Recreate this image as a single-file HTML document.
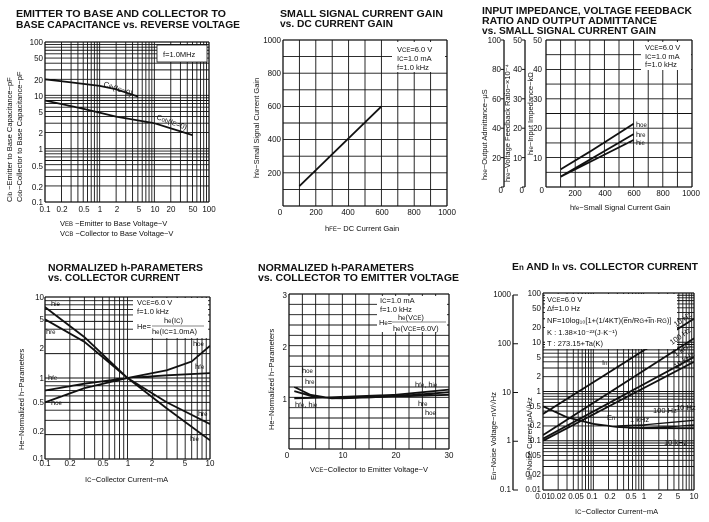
<!DOCTYPE html>
<html><head><meta charset="utf-8"><style>
body{margin:0;background:#fff}
svg{display:block}
text{font-family:"Liberation Sans",sans-serif;fill:#111}
.t{font-weight:bold;font-size:10.5px}
.s{font-size:8px}
.a{font-size:7.5px}
</style></head><body>
<svg id="c" width="709" height="522" viewBox="0 0 709 522" xmlns="http://www.w3.org/2000/svg">
<rect width="709" height="522" fill="#fff"/>
<g id="g" stroke="#111" fill="none"></g>
<!-- Titles -->
<text class="t" x="16" y="17" textLength="210" lengthAdjust="spacingAndGlyphs">EMITTER TO BASE AND COLLECTOR TO</text>
<text class="t" x="16" y="28" textLength="224" lengthAdjust="spacingAndGlyphs">BASE CAPACITANCE vs. REVERSE VOLTAGE</text>
<text class="t" x="280" y="17" textLength="163" lengthAdjust="spacingAndGlyphs">SMALL SIGNAL CURRENT GAIN</text>
<text class="t" x="280" y="27" textLength="113" lengthAdjust="spacingAndGlyphs">vs. DC CURRENT GAIN</text>
<text class="t" x="482" y="14" textLength="210" lengthAdjust="spacingAndGlyphs">INPUT IMPEDANCE, VOLTAGE FEEDBACK</text>
<text class="t" x="482" y="24" textLength="175" lengthAdjust="spacingAndGlyphs">RATIO AND OUTPUT ADMITTANCE</text>
<text class="t" x="482" y="34" textLength="174" lengthAdjust="spacingAndGlyphs">vs. SMALL SIGNAL CURRENT GAIN</text>
<text class="t" x="48" y="271" textLength="155" lengthAdjust="spacingAndGlyphs">NORMALIZED h-PARAMETERS</text>
<text class="t" x="48" y="281" textLength="132" lengthAdjust="spacingAndGlyphs">vs. COLLECTOR CURRENT</text>
<text class="t" x="258" y="271" textLength="156" lengthAdjust="spacingAndGlyphs">NORMALIZED h-PARAMETERS</text>
<text class="t" x="258" y="281" textLength="201" lengthAdjust="spacingAndGlyphs">vs. COLLECTOR TO EMITTER VOLTAGE</text>
<text class="t" x="512" y="270" textLength="186" lengthAdjust="spacingAndGlyphs">E<tspan font-size="8">n</tspan> AND I<tspan font-size="8">n</tspan> vs. COLLECTOR CURRENT</text>
<!-- Chart1 labels -->
<g class="s" text-anchor="end">
<text x="43" y="45">100</text><text x="43" y="61">50</text><text x="43" y="83">20</text><text x="43" y="99">10</text><text x="43" y="115">5</text><text x="43" y="136">2</text><text x="43" y="152">1</text><text x="43" y="169">0.5</text><text x="43" y="190">0.2</text><text x="43" y="205">0.1</text></g>
<g class="s" text-anchor="middle">
<text x="45" y="212">0.1</text><text x="62" y="212">0.2</text><text x="84" y="212">0.5</text><text x="100" y="212">1</text><text x="117" y="212">2</text><text x="139" y="212">5</text><text x="155" y="212">10</text><text x="171" y="212">20</text><text x="193" y="212">50</text><text x="209" y="212">100</text></g>
<text class="a" x="60" y="226">V<tspan font-size="6">EB</tspan> −Emitter to Base Voltage−V</text>
<text class="a" x="60" y="236">V<tspan font-size="6">CB</tspan> −Collector to Base Voltage−V</text>
<text class="a" transform="translate(12,202) rotate(-90)">C<tspan font-size="6">ib</tspan> −Emitter to Base Capacitance−pF</text>
<text class="a" transform="translate(22,202) rotate(-90)">C<tspan font-size="6">ob</tspan>−Collector to Base Capacitance−pF</text>
<rect x="157" y="45" width="50" height="17" fill="#fff" stroke="#111" stroke-width="0.8"/>
<text class="a" x="163" y="57">f=1.0MHz</text>
<text class="a" x="103" y="86" transform="rotate(20 103 86)">C<tspan font-size="6">ib</tspan>(I<tspan font-size="6">C</tspan>=0)</text>
<text class="a" x="156" y="119" transform="rotate(20 156 119)">C<tspan font-size="6">ob</tspan>(I<tspan font-size="6">E</tspan>=0)</text>
<!-- Chart2 labels -->
<g class="s" text-anchor="end"><text x="281" y="43">1000</text><text x="281" y="76">800</text><text x="281" y="109">600</text><text x="281" y="142">400</text><text x="281" y="176">200</text></g>
<g class="s" text-anchor="middle"><text x="280" y="215">0</text><text x="316" y="215">200</text><text x="348" y="215">400</text><text x="382" y="215">600</text><text x="414" y="215">800</text><text x="447" y="215">1000</text></g>
<text class="a" x="325" y="231">h<tspan font-size="6">FE</tspan>− DC  Current Gain</text>
<text class="a" transform="translate(259,178) rotate(-90)">h<tspan font-size="6">fe</tspan>−Small Signal Current Gain</text>
<rect x="392" y="42" width="53" height="30" fill="#fff"/>
<text class="a" x="397" y="52">V<tspan font-size="6">CE</tspan>=6.0 V</text>
<text class="a" x="397" y="61">I<tspan font-size="6">C</tspan>=1.0 mA</text>
<text class="a" x="397" y="70">f=1.0 kHz</text>
<!-- Chart3 labels -->
<g class="s" text-anchor="end">
<text x="542" y="43">50</text><text x="542" y="72">40</text><text x="542" y="102">30</text><text x="542" y="131">20</text><text x="542" y="161">10</text><text x="544" y="193">0</text>
<text x="522" y="43">50</text><text x="522" y="72">40</text><text x="522" y="102">30</text><text x="522" y="131">20</text><text x="522" y="161">10</text><text x="524" y="193">0</text>
<text x="501" y="43">100</text><text x="501" y="72">80</text><text x="501" y="102">60</text><text x="501" y="131">40</text><text x="501" y="161">20</text><text x="503" y="193">0</text></g>
<g class="s" text-anchor="middle"><text x="575" y="196">200</text><text x="605" y="196">400</text><text x="634" y="196">600</text><text x="663" y="196">800</text><text x="691" y="196">1000</text></g>
<text class="a" x="570" y="210">h<tspan font-size="6">fe</tspan>−Small Signal Current Gain</text>
<text class="a" transform="translate(487,180) rotate(-90)">h<tspan font-size="6">oe</tspan>−Output Admittance−μS</text>
<text class="a" transform="translate(510,182) rotate(-90)">h<tspan font-size="6">re</tspan>−Voltage Feedback Ratio−×10⁻⁴</text>
<text class="a" transform="translate(533,155) rotate(-90)">h<tspan font-size="6">ie</tspan>−Input Impedance−kΩ</text>
<rect x="641" y="42" width="50" height="28" fill="#fff"/>
<text class="a" x="645" y="50">V<tspan font-size="6">CE</tspan>=6.0 V</text>
<text class="a" x="645" y="59">I<tspan font-size="6">C</tspan>=1.0 mA</text>
<text class="a" x="645" y="67">f=1.0 kHz</text>
<text class="a" x="636" y="127">h<tspan font-size="6">oe</tspan></text>
<text class="a" x="636" y="137">h<tspan font-size="6">re</tspan></text>
<text class="a" x="636" y="145">h<tspan font-size="6">ie</tspan></text>
<!-- Chart4 labels -->
<g class="s" text-anchor="end"><text x="44" y="300">10</text><text x="44" y="322">5</text><text x="44" y="351">2</text><text x="44" y="381">1</text><text x="44" y="405">0.5</text><text x="44" y="434">0.2</text><text x="44" y="461">0.1</text></g>
<g class="s" text-anchor="middle"><text x="45" y="466">0.1</text><text x="70" y="466">0.2</text><text x="103" y="466">0.5</text><text x="128" y="466">1</text><text x="152" y="466">2</text><text x="185" y="466">5</text><text x="210" y="466">10</text></g>
<text class="a" x="85" y="482">I<tspan font-size="6">C</tspan>−Collector Current−mA</text>
<text class="a" transform="translate(24,450) rotate(-90)">He−Normalized h−Parameters</text>
<rect x="133" y="298" width="75" height="40" fill="#fff"/>
<text class="a" x="137" y="305">V<tspan font-size="6">CE</tspan>=6.0 V</text>
<text class="a" x="137" y="314">f=1.0 kHz</text>
<text class="a" x="164" y="323">h<tspan font-size="6">e</tspan>(I<tspan font-size="6">C</tspan>)</text>
<text class="a" x="137" y="329">He=</text>
<line x1="152" y1="326" x2="204" y2="326" stroke="#111" stroke-width="0.6"/>
<text class="a" x="152" y="334">h<tspan font-size="6">e</tspan>(I<tspan font-size="6">C</tspan>=1.0mA)</text>
<text class="a" x="51" y="306">h<tspan font-size="6">ie</tspan></text>
<text class="a" x="46" y="334">h<tspan font-size="6">re</tspan></text>
<text class="a" x="48" y="380">h<tspan font-size="6">fe</tspan></text>
<text class="a" x="51" y="405">h<tspan font-size="6">oe</tspan></text>
<text class="a" x="193" y="346">h<tspan font-size="6">oe</tspan></text>
<text class="a" x="195" y="369">h<tspan font-size="6">fe</tspan></text>
<text class="a" x="198" y="416">h<tspan font-size="6">re</tspan></text>
<text class="a" x="190" y="441">h<tspan font-size="6">ie</tspan></text>
<!-- Chart5 labels -->
<g class="s" text-anchor="end"><text x="287" y="298">3</text><text x="287" y="350">2</text><text x="287" y="402">1</text></g>
<g class="s" text-anchor="middle"><text x="287" y="458">0</text><text x="343" y="458">10</text><text x="396" y="458">20</text><text x="449" y="458">30</text></g>
<text class="a" x="310" y="472">V<tspan font-size="6">CE</tspan>−Collector to Emitter Voltage−V</text>
<text class="a" transform="translate(274,430) rotate(-90)">He−Normalized h−Parameters</text>
<rect x="377" y="296" width="70" height="36" fill="#fff"/>
<text class="a" x="380" y="303">I<tspan font-size="6">C</tspan>=1.0 mA</text>
<text class="a" x="380" y="312">f=1.0 kHz</text>
<text class="a" x="398" y="320">h<tspan font-size="6">e</tspan>(V<tspan font-size="6">CE</tspan>)</text>
<text class="a" x="379" y="325">H<tspan font-size="6">e</tspan>=</text>
<line x1="392" y1="322" x2="446" y2="322" stroke="#111" stroke-width="0.6"/>
<text class="a" x="393" y="331">h<tspan font-size="6">e</tspan>(V<tspan font-size="6">CE</tspan>=6.0V)</text>
<text class="a" x="302" y="373">h<tspan font-size="6">oe</tspan></text>
<text class="a" x="305" y="384">h<tspan font-size="6">re</tspan></text>
<text class="a" x="295" y="407">h<tspan font-size="6">fe</tspan>, h<tspan font-size="6">ie</tspan></text>
<text class="a" x="415" y="387">h<tspan font-size="6">fe</tspan>, h<tspan font-size="6">ie</tspan></text>
<text class="a" x="418" y="406">h<tspan font-size="6">re</tspan></text>
<text class="a" x="425" y="415">h<tspan font-size="6">oe</tspan></text>
<!-- Chart6 labels -->
<g class="s" text-anchor="end">
<text x="541" y="296">100</text><text x="541" y="311">50</text><text x="541" y="330">20</text><text x="541" y="345">10</text><text x="541" y="360">5</text><text x="541" y="379">2</text><text x="541" y="394">1</text><text x="541" y="409">0.5</text><text x="541" y="428">0.2</text><text x="541" y="443">0.1</text><text x="541" y="458">0.05</text><text x="541" y="477">0.02</text><text x="541" y="492">0.01</text>
<text x="511" y="297">1000</text><text x="511" y="346">100</text><text x="511" y="395">10</text><text x="511" y="443">1</text><text x="511" y="492">0.1</text></g>
<g class="s" text-anchor="middle"><text x="543" y="499">0.01</text><text x="558" y="499">0.02</text><text x="576" y="499">0.05</text><text x="592" y="499">0.1</text><text x="610" y="499">0.2</text><text x="631" y="499">0.5</text><text x="644" y="499">1</text><text x="660" y="499">2</text><text x="678" y="499">5</text><text x="694" y="499">10</text></g>
<text class="a" x="575" y="514">I<tspan font-size="6">C</tspan>−Collector Current−mA</text>
<text class="a" transform="translate(496,480) rotate(-90)">E<tspan font-size="6">n</tspan>−Noise Voltage−nV/√Hz</text>
<text class="a" transform="translate(532,480) rotate(-90)">I<tspan font-size="6">n</tspan>−Noise Current    pA/√Hz</text>
<rect x="545" y="294" width="132" height="55" fill="#fff"/>
<text class="a" x="547" y="302">V<tspan font-size="6">CE</tspan>=6.0 V</text>
<text class="a" x="547" y="311">Δf=1.0 Hz</text>
<text class="a" x="547" y="323">NF=10log₁₀[1+(1/4KT)(e̅n/R<tspan font-size="6">G</tspan>+i̅n·R<tspan font-size="6">G</tspan>)]</text>
<text class="a" x="547" y="335">K : 1.38×10⁻²³(J·K⁻¹)</text>
<text class="a" x="547" y="346">T : 273.15+Ta(K)</text>
<text class="a" x="676" y="327" transform="rotate(-35 676 327)">10 Hz</text>
<text class="a" x="672" y="345" transform="rotate(-35 672 345)">100 Hz</text>
<text class="a" x="676" y="357" transform="rotate(-35 676 357)">1 kHz</text>
<text class="a" x="676" y="369" transform="rotate(-35 676 369)">10 kHz</text>
<text class="a" x="602" y="365">I<tspan font-size="6">n</tspan></text>
<text class="a" x="607" y="420">E<tspan font-size="6">n</tspan></text>
<text class="a" x="653" y="413">100 Hz</text><text class="a" x="676" y="410">10 Hz</text>
<text class="a" x="630" y="422">1 kHz</text><text class="a" x="664" y="445">10 kHz</text>
</svg>
<script>
var g=document.getElementById('g');
function L(x1,y1,x2,y2,w){var l=document.createElementNS('http://www.w3.org/2000/svg','line');l.setAttribute('x1',x1);l.setAttribute('y1',y1);l.setAttribute('x2',x2);l.setAttribute('y2',y2);l.setAttribute('stroke-width',w||0.8);g.appendChild(l);}
function P(pts,w){var p=document.createElementNS('http://www.w3.org/2000/svg','polyline');p.setAttribute('points',pts.map(function(a){return a[0].toFixed(1)+','+a[1].toFixed(1)}).join(' '));p.setAttribute('stroke-width',w||1.8);g.appendChild(p);}
function logAx(a,b,lo,dec){var r=[];for(var d=0;d<dec;d++)for(var k=1;k<=9;k++)r.push(a+(b-a)*(d+Math.log10(k))/dec);r.push(b);return r;}
function mk(x0,x1,y0,y1,lx,ly){
 var X=lx.log?logAx(x0,x1,0,lx.log):Array.from({length:lx.n+1},function(_,i){return x0+(x1-x0)*i/lx.n});
 var Y=ly.log?logAx(y1,y0,0,ly.log):Array.from({length:ly.n+1},function(_,i){return y1+(y0-y1)*i/ly.n});
 X.forEach(function(x){L(x,y0,x,y1,0.9)});Y.forEach(function(y){L(x0,y,x1,y,0.9)});
 L(x0,y0,x1,y0,1.3);L(x0,y1,x1,y1,1.3);L(x0,y0,x0,y1,1.3);L(x1,y0,x1,y1,1.3);
 var fx=function(v){return lx.log?x0+(x1-x0)*(Math.log10(v)-Math.log10(lx.lo))/lx.log:x0+(x1-x0)*(v-lx.lo)/lx.rng};
 var fy=function(v){return ly.log?y1-(y1-y0)*(Math.log10(v)-Math.log10(ly.lo))/ly.log:y1-(y1-y0)*(v-ly.lo)/ly.rng};
 return function(pts,w){P(pts.map(function(p){return[fx(p[0]),fy(p[1])]}),w)};
}
var c1=mk(45,209,42,202,{log:3,lo:0.1},{log:3,lo:0.1});
c1([[0.1,20],[0.3,17.5],[1,15],[2,13],[5,9.5]]);
c1([[0.1,8],[0.5,5.6],[2,4],[10,3],[50,1.8]]);
var c2=mk(283,447,40,206,{n:10,lo:0,rng:1000},{n:10,lo:0,rng:1000});
c2([[100,120],[600,600]]);
var c3=mk(546,692,40,187,{n:10,lo:0,rng:1000},{n:10,lo:0,rng:50});
c3([[100,6],[300,12],[600,21.5]]);c3([[100,3.5],[600,18]]);c3([[100,3.5],[600,16]]);
L(504,40,504,187,1.3);L(525,40,525,187,1.3);
[40,69.4,98.8,128.2,157.6,187].forEach(function(y){L(501,y,504,y,1);L(522,y,525,y,1)});
var c4=mk(45,210,297,459,{log:2,lo:0.1},{log:2,lo:0.1});
c4([[0.1,7.5],[0.3,3.2],[1,1],[3,0.42],[10,0.17]]);
c4([[0.1,5.3],[0.3,2.8],[1,1],[3,0.5],[10,0.27]]);
c4([[0.1,0.7],[0.3,0.85],[1,1],[3,1.08],[10,1.15]]);
c4([[0.1,0.5],[0.3,0.75],[1,1],[3,1.25],[6,1.6],[10,2.5]]);
var c5=mk(289,449,294,449,{n:12,lo:0,rng:30},{n:15,lo:0,rng:3});
c5([[1,1.2],[4,1.05],[8,0.98],[15,1],[30,1.05]]);c5([[1,1.12],[5,1.0],[10,0.98],[20,1.02],[30,1.1]]);
c5([[1,0.98],[8,1.0],[20,1.05],[30,1.15]]);
var c6=mk(543,694,293,490,{log:3,lo:0.01},{log:4,lo:0.01});
c6([[0.01,0.35],[10,30]]);c6([[0.01,0.13],[10,12]]);c6([[0.01,0.11],[10,5]]);c6([[0.01,0.1],[10,4]]);
c6([[0.01,0.5],[0.03,0.3],[0.1,0.22],[0.3,0.19],[1,0.18],[10,0.18]]);
c6([[0.3,0.2],[1,0.21],[10,0.26]],1.3);c6([[0.5,0.18],[3,0.19],[10,0.21]],1.3);
L(513,295,513,490,1.3);[295,343.75,392.5,441.25,490].forEach(function(y){L(513,y,518,y,1)});
</script>
</body></html>
